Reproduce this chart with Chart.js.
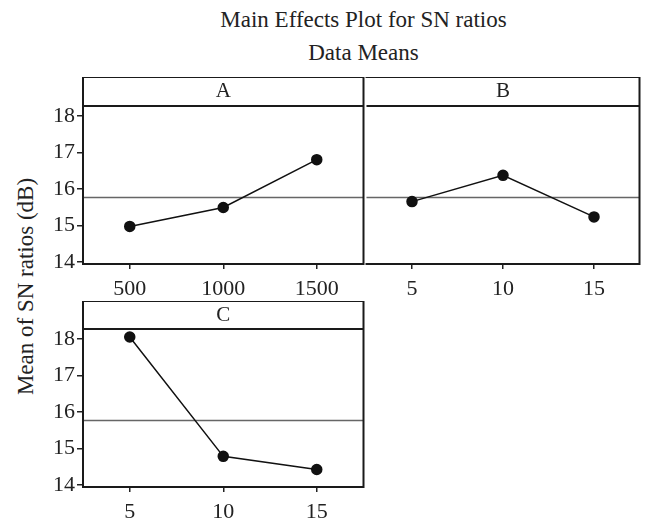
<!DOCTYPE html>
<html>
<head>
<meta charset="utf-8">
<script src="https://cdn.jsdelivr.net/npm/chart.js@4.4.0/dist/chart.umd.min.js"></script>
<style>
body { margin: 0; background: #fff; }
#wrap { position: relative; width: 646px; height: 522px; font-family: 'Liberation Serif', 'Times New Roman', serif; color: #222; }
canvas { position: absolute; }
.t { position: absolute; left: 83px; width: 561px; text-align: center; font-size: 23px; line-height: 23px; }
#ylab { position: absolute; left: 25px; top: 287px; width: 300px; margin-left: -150px; margin-top: -12px;
        text-align: center; font-size: 23px; line-height: 23px; transform: rotate(-90deg); }
</style>
</head>
<body>
<div id="wrap">
  <div class="t" style="top:8px">Main Effects Plot for SN ratios</div>
  <div class="t" style="top:41px">Data Means</div>
  <div id="ylab">Mean of SN ratios (dB)</div>
  <canvas id="pA" width="370" height="227" style="left:0;top:77px"></canvas>
  <canvas id="pB" width="286" height="227" style="left:360px;top:77px"></canvas>
  <canvas id="pC" width="370" height="226" style="left:0;top:301px"></canvas>
</div>
<script>
// factor levels
const levelsA = ['500', '1000', '1500'];
const levelsB = ['5', '10', '15'];
const levelsC = ['5', '10', '15'];

// mean SN ratio at each level
const meansA = [14.98, 15.50, 16.81];
const meansB = [15.66, 16.38, 15.24];
const meansC = [18.06, 14.79, 14.43];

const grandMean = 15.77;
const yTicks = [14, 15, 16, 17, 18];

const serif = "'Liberation Serif', 'Times New Roman', serif";

// draws the grand mean line, the plot frame and the header box
const panelFrame = {
    id: 'panelFrame',
    beforeDatasetsDraw(chart) {
        const ctx = chart.ctx;
        const a = chart.chartArea;
        const y = chart.scales.y.getPixelForValue(grandMean);
        ctx.save();
        ctx.strokeStyle = '#666';
        ctx.lineWidth = 1.5;
        ctx.beginPath();
        ctx.moveTo(a.left, y);
        ctx.lineTo(a.right, y);
        ctx.stroke();
        ctx.restore();
    },
    afterDraw(chart, args, opts) {
        const ctx = chart.ctx;
        const a = chart.chartArea;
        const top = a.top - opts.header;
        ctx.save();
        ctx.strokeStyle = '#1a1a1a';
        ctx.lineWidth = 2;
        ctx.beginPath();
        // top, header divider, bottom
        ctx.moveTo(a.left - 1, top); ctx.lineTo(a.right + 1, top);
        ctx.moveTo(a.left, a.top); ctx.lineTo(a.right, a.top);
        ctx.moveTo(a.left - 1, a.bottom); ctx.lineTo(a.right + 1, a.bottom);
        // sides
        if (!opts.skipLeft) { ctx.moveTo(a.left, top); ctx.lineTo(a.left, a.bottom); }
        ctx.moveTo(a.right, top); ctx.lineTo(a.right, a.bottom);
        ctx.stroke();
        ctx.restore();
    }
};

function makePanel(id, name, levels, values, showY, leftW, header, padBottom) {
    return new Chart(document.getElementById(id), {
        type: 'line',
        data: {
            labels: levels,
            datasets: [{
                data: values,
                borderColor: '#111',
                borderWidth: 1.5,
                backgroundColor: '#111',
                pointRadius: 5,
                pointHoverRadius: 5,
                tension: 0
            }]
        },
        options: {
            responsive: false,
            animation: false,
            layout: { padding: { right: 5, left: 0, top: 0, bottom: 0 } },
            plugins: {
                legend: { display: false },
                tooltip: { enabled: false },
                title: {
                    display: true,
                    text: name,
                    fullSize: false,
                    color: '#222',
                    font: { family: serif, size: 21, weight: 'normal', lineHeight: 1 },
                    padding: { top: 4, bottom: padBottom }
                },
                panelFrame: { header: header, skipLeft: !showY }
            },
            scales: {
                x: {
                    type: 'category',
                    offset: true,
                    grid: { display: true, offset: false, drawOnChartArea: false, drawTicks: true, tickLength: 5, color: '#222', lineWidth: 1.5 },
                    border: { display: false },
                    ticks: { color: '#222', padding: 7, maxRotation: 0, font: { family: serif, size: 22 } },
                    afterFit: s => { s.height = 40; }
                },
                y: {
                    min: 13.95,
                    max: 18.28,
                    afterBuildTicks: s => { s.ticks = yTicks.map(v => ({ value: v })); },
                    grid: { display: showY, drawOnChartArea: false, drawTicks: true, tickLength: 6, color: '#222', lineWidth: 1.5 },
                    border: { display: false },
                    ticks: { display: showY, color: '#222', padding: 2, font: { family: serif, size: 22 } },
                    afterFit: s => { s.width = leftW; }
                }
            }
        },
        plugins: [panelFrame]
    });
}

makePanel('pA', 'A', levelsA, meansA, true, 83, 29, 4);
makePanel('pB', 'B', levelsB, meansB, false, 5, 29, 4);
makePanel('pC', 'C', levelsC, meansC, true, 83, 28, 3);
</script>
</body>
</html>
